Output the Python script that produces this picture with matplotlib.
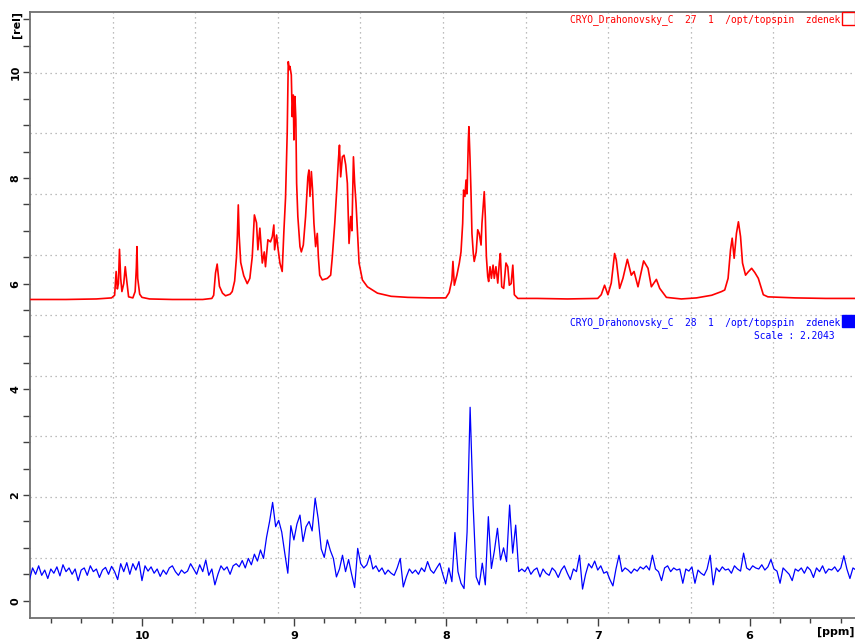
import numpy as np
import matplotlib
matplotlib.use("Agg")
import matplotlib.pyplot as plt
from matplotlib.patches import Rectangle
from matplotlib.ticker import MultipleLocator

# Spectrum 27 (red): vertices, ppm / intensity [rel]
red_ppm = [10.74, 10.50, 10.30, 10.20, 10.18, 10.17, 10.162, 10.155, 10.148, 10.14,
           10.132, 10.12, 10.11, 10.10, 10.088, 10.06, 10.045, 10.037, 10.033, 10.028,
           10.015, 10.0, 9.95, 9.80, 9.60, 9.54, 9.528, 9.516, 9.505, 9.49,
           9.47, 9.45, 9.42, 9.406, 9.39, 9.378, 9.372, 9.366, 9.36, 9.35,
           9.33, 9.307, 9.29, 9.274, 9.26, 9.246, 9.237, 9.224, 9.208, 9.195,
           9.187, 9.171, 9.154, 9.142, 9.132, 9.127, 9.114, 9.106, 9.092, 9.077,
           9.066, 9.055, 9.044, 9.037, 9.030, 9.026, 9.017, 9.011, 9.004, 9.0,
           8.993, 8.987, 8.982, 8.974, 8.96, 8.951, 8.938, 8.923, 8.908, 8.901,
           8.894, 8.885, 8.877, 8.868, 8.857, 8.846, 8.839, 8.83, 8.813, 8.78,
           8.758, 8.747, 8.731, 8.718, 8.707, 8.70, 8.692, 8.681, 8.670, 8.659,
           8.648, 8.637, 8.626, 8.618, 8.608, 8.60, 8.591, 8.582, 8.571, 8.549,
           8.516, 8.45, 8.36, 8.25, 8.10, 8.0, 7.978, 7.96, 7.953, 7.944,
           7.927, 7.911, 7.90, 7.889, 7.883, 7.874, 7.867, 7.86, 7.852, 7.848,
           7.841, 7.834, 7.828, 7.819, 7.813, 7.80, 7.79, 7.78, 7.768, 7.762,
           7.747, 7.74, 7.733, 7.724, 7.718, 7.709, 7.70, 7.689, 7.681, 7.67,
           7.658, 7.648, 7.641, 7.632, 7.619, 7.604, 7.592, 7.582, 7.57, 7.559,
           7.549, 7.526, 7.40, 7.20, 7.0, 6.977, 6.955, 6.933, 6.911, 6.889,
           6.878, 6.856, 6.834, 6.805, 6.779, 6.761, 6.735, 6.698, 6.669, 6.647,
           6.614, 6.592, 6.548, 6.45, 6.35, 6.25, 6.185, 6.164, 6.142, 6.126,
           6.115, 6.102, 6.087, 6.074, 6.06, 6.047, 6.027, 6.01, 5.987, 5.966,
           5.943, 5.91, 5.88, 5.70, 5.50, 5.30]
red_val = [5.70, 5.70, 5.71, 5.73, 5.78, 6.23, 5.90, 6.00, 6.65, 6.10,
           5.85, 6.00, 6.32, 6.05, 5.75, 5.73, 5.85, 6.30, 6.70, 6.10,
           5.80, 5.74, 5.71, 5.70, 5.70, 5.72, 5.78, 6.20, 6.37, 5.95,
           5.82, 5.77, 5.80, 5.85, 6.05, 6.50, 6.90, 7.49, 6.90, 6.40,
           6.15, 6.00, 6.10, 6.51, 7.30, 7.15, 6.64, 7.05, 6.39, 6.60,
           6.32, 6.83, 6.79, 6.89, 7.11, 6.64, 6.92, 6.70, 6.39, 6.23,
           6.98, 7.62, 8.85, 10.20, 10.05, 10.11, 9.95, 9.16, 9.57, 8.72,
           9.54, 9.10, 7.90, 7.27, 6.70, 6.60, 6.73, 7.27, 8.02, 8.15,
           7.65, 8.12, 7.77, 7.14, 6.70, 6.95, 6.51, 6.16, 6.07, 6.10,
           6.16, 6.51, 7.14, 7.77, 8.34, 8.62, 8.02, 8.40, 8.43, 8.25,
           7.90, 6.76, 7.27, 7.00, 8.40, 7.90, 7.52, 7.02, 6.39, 6.07,
           5.94, 5.82, 5.76, 5.74, 5.73, 5.73, 5.83, 6.07, 6.42, 5.97,
           6.16, 6.39, 6.60, 7.14, 7.77, 7.65, 7.96, 7.70, 8.69, 8.97,
           8.40, 7.71, 6.95, 6.57, 6.42, 6.60, 7.02, 6.95, 6.73, 7.14,
           7.74, 7.27, 6.51, 6.13, 6.04, 6.32, 6.10, 6.35, 6.10, 6.32,
           6.01, 6.39, 6.57, 5.94, 5.91, 6.39, 6.32, 5.97, 6.00, 6.35,
           5.79, 5.72, 5.72, 5.71, 5.72, 5.79, 5.97, 5.79, 6.01, 6.57,
           6.45, 5.91, 6.10, 6.46, 6.16, 6.23, 5.94, 6.43, 6.29, 5.94,
           6.08, 5.91, 5.74, 5.71, 5.73, 5.78, 5.85, 5.88, 6.10, 6.64,
           6.86, 6.48, 6.95, 7.17, 6.89, 6.39, 6.16, 6.22, 6.29, 6.21,
           6.10, 5.79, 5.75, 5.73, 5.72, 5.72]

# Spectrum 28 (blue), read every 0.02 ppm from 10.74 ppm downwards
blue_start = 10.74
blue_step = 0.02
blue_val = [
    0.40, 0.62, 0.50, 0.66, 0.48, 0.58, 0.42, 0.60, 0.52, 0.64,  # 10.74
    0.47, 0.68, 0.55, 0.62, 0.50, 0.60, 0.38, 0.58, 0.62, 0.48,  # 10.54
    0.66, 0.55, 0.60, 0.44, 0.58, 0.63, 0.50, 0.65, 0.55, 0.40,  # 10.34
    0.70, 0.55, 0.72, 0.50, 0.70, 0.58, 0.74, 0.38, 0.66, 0.56,  # 10.14
    0.64, 0.52, 0.60, 0.46, 0.58, 0.50, 0.62, 0.66, 0.55, 0.48,  # 9.94
    0.58, 0.52, 0.56, 0.70, 0.60, 0.50, 0.68, 0.55, 0.77, 0.48,  # 9.74
    0.60, 0.30, 0.50, 0.66, 0.58, 0.64, 0.50, 0.66, 0.70, 0.64,  # 9.54
    0.76, 0.62, 0.80, 0.68, 0.88, 0.75, 0.96, 0.80, 1.20, 1.50,  # 9.34
    1.86, 1.40, 1.52, 1.30, 0.90, 0.52, 1.42, 1.15, 1.45, 1.62,  # 9.14
    1.12, 1.40, 1.50, 1.32, 1.94, 1.55, 0.98, 0.82, 1.15, 0.95,  # 8.94
    0.80, 0.45, 0.60, 0.86, 0.55, 0.78, 0.50, 0.25, 0.99, 0.70,  # 8.74
    0.62, 0.68, 0.86, 0.60, 0.66, 0.55, 0.62, 0.50, 0.58, 0.52,  # 8.54
    0.48, 0.62, 0.80, 0.26, 0.45, 0.60, 0.52, 0.58, 0.50, 0.62,  # 8.34
    0.55, 0.74, 0.58, 0.52, 0.62, 0.71, 0.50, 0.32, 0.62, 0.36,  # 8.14
    1.29, 0.55, 0.33, 0.23, 1.30, 3.66, 1.80, 0.45, 0.30, 0.71,  # 7.94
    0.30, 1.59, 0.61, 0.95, 1.37, 0.77, 1.00, 0.74, 1.81, 0.90,  # 7.74
    1.43, 0.55, 0.60, 0.55, 0.64, 0.50, 0.58, 0.62, 0.45, 0.60,  # 7.54
    0.52, 0.48, 0.62, 0.56, 0.44, 0.58, 0.66, 0.52, 0.40, 0.60,  # 7.34
    0.55, 0.86, 0.22, 0.50, 0.70, 0.62, 0.75, 0.58, 0.66, 0.52,  # 7.14
    0.55, 0.40, 0.28, 0.60, 0.86, 0.55, 0.62, 0.58, 0.52, 0.60,  # 6.94
    0.56, 0.64, 0.60, 0.66, 0.58, 0.86, 0.60, 0.55, 0.38, 0.62,  # 6.74
    0.66, 0.55, 0.62, 0.58, 0.60, 0.33, 0.60, 0.56, 0.64, 0.33,  # 6.54
    0.58, 0.52, 0.48, 0.60, 0.86, 0.30, 0.62, 0.55, 0.64, 0.58,  # 6.34
    0.60, 0.52, 0.66, 0.60, 0.56, 0.90, 0.62, 0.58, 0.66, 0.62,  # 6.14
    0.60, 0.68, 0.58, 0.64, 0.78, 0.60, 0.56, 0.33, 0.62, 0.56,  # 5.94
    0.50, 0.38, 0.60, 0.56, 0.62, 0.52, 0.64, 0.58, 0.44, 0.62,  # 5.74
    0.55, 0.66, 0.52, 0.60, 0.58, 0.64, 0.55, 0.62, 0.85, 0.60,  # 5.54
    0.42, 0.62, 0.58,                                            # 5.34
]
blue_ppm = blue_start - blue_step * np.arange(len(blue_val))

red_label = "CRYO_Drahonovsky_C  27  1  /opt/topspin  zdenek"
blue_label = "CRYO_Drahonovsky_C  28  1  /opt/topspin  zdenek"
scale_label = "Scale : 2.2043"

W, H = 855, 641
fig = plt.figure(figsize=(W / 100, H / 100), dpi=100)
ax = fig.add_axes([30 / W, 22.7 / H, 826 / W, 606.3 / H])

# grid: TopSpin splits the frame into 10 x 10 cells
for f in np.arange(1, 10) / 10:
    ax.plot([f, f], [0, 1], transform=ax.transAxes, color="#a8a8a8",
            lw=0.9, ls=(0, (1, 3)), zorder=0)
    ax.plot([0, 1], [f, f], transform=ax.transAxes, color="#a8a8a8",
            lw=0.9, ls=(0, (1, 3)), zorder=0)

ax.plot(red_ppm, red_val, color="#ff0000", lw=1.2, zorder=3)
ax.plot(blue_ppm, blue_val, color="#0000ff", lw=0.9, zorder=3)

ax.set_xlim(10.737, 5.30)
ax.set_ylim(-0.333, 11.14)

ax.xaxis.set_major_locator(MultipleLocator(1))
ax.xaxis.set_minor_locator(MultipleLocator(0.2))
ax.yaxis.set_major_locator(MultipleLocator(2))
ax.yaxis.set_minor_locator(MultipleLocator(0.5))
ax.tick_params(axis="x", which="major", length=6, width=1, color="#404040",
               labelsize=8, pad=3)
ax.tick_params(axis="x", which="minor", length=3.5, width=1, color="#404040")
ax.tick_params(axis="y", which="both", length=5, width=1, color="#404040",
               labelsize=8, pad=2)
ax.xaxis.set_major_formatter(plt.FuncFormatter(lambda v, p: f"{v:g}"))
ax.yaxis.set_major_formatter(plt.FuncFormatter(lambda v, p: f"{v:g}"))
for lab in ax.get_xticklabels() + ax.get_yticklabels():
    lab.set_fontweight("bold")
for lab in ax.get_yticklabels():
    lab.set_rotation(90)
    lab.set_va("center")

for side in ["left", "bottom", "top"]:
    ax.spines[side].set_color("#707070")
    ax.spines[side].set_linewidth(1.3)
ax.spines["right"].set_visible(False)

fig.text(17 / W, 1 - 25 / H, "[rel]", rotation=90, ha="center", va="center",
         fontsize=8, fontweight="bold")
fig.text(836 / W, 1 - 632 / H, "[ppm]", ha="center", va="center",
         fontsize=8, fontweight="bold")

mono = "DejaVu Sans Mono"
fig.text(840 / W, 1 - 20 / H, red_label, ha="right", va="center",
         family=mono, fontsize=6.9, color="#ff0000")
fig.text(840 / W, 1 - 323 / H, blue_label, ha="right", va="center",
         family=mono, fontsize=6.9, color="#0000ff")
fig.text(834 / W, 1 - 336 / H, scale_label, ha="right", va="center",
         family=mono, fontsize=6.9, color="#0000ff")

fig.patches.append(Rectangle((842 / W, 1 - 25 / H), 13 / W, 13 / H,
                             transform=fig.transFigure, fill=False,
                             edgecolor="#ff0000", lw=1))
fig.patches.append(Rectangle((842 / W, 1 - 327 / H), 13 / W, 12 / H,
                             transform=fig.transFigure, facecolor="#0000ff",
                             edgecolor="#0000ff", lw=1))

fig.savefig("out.png", dpi=100)
